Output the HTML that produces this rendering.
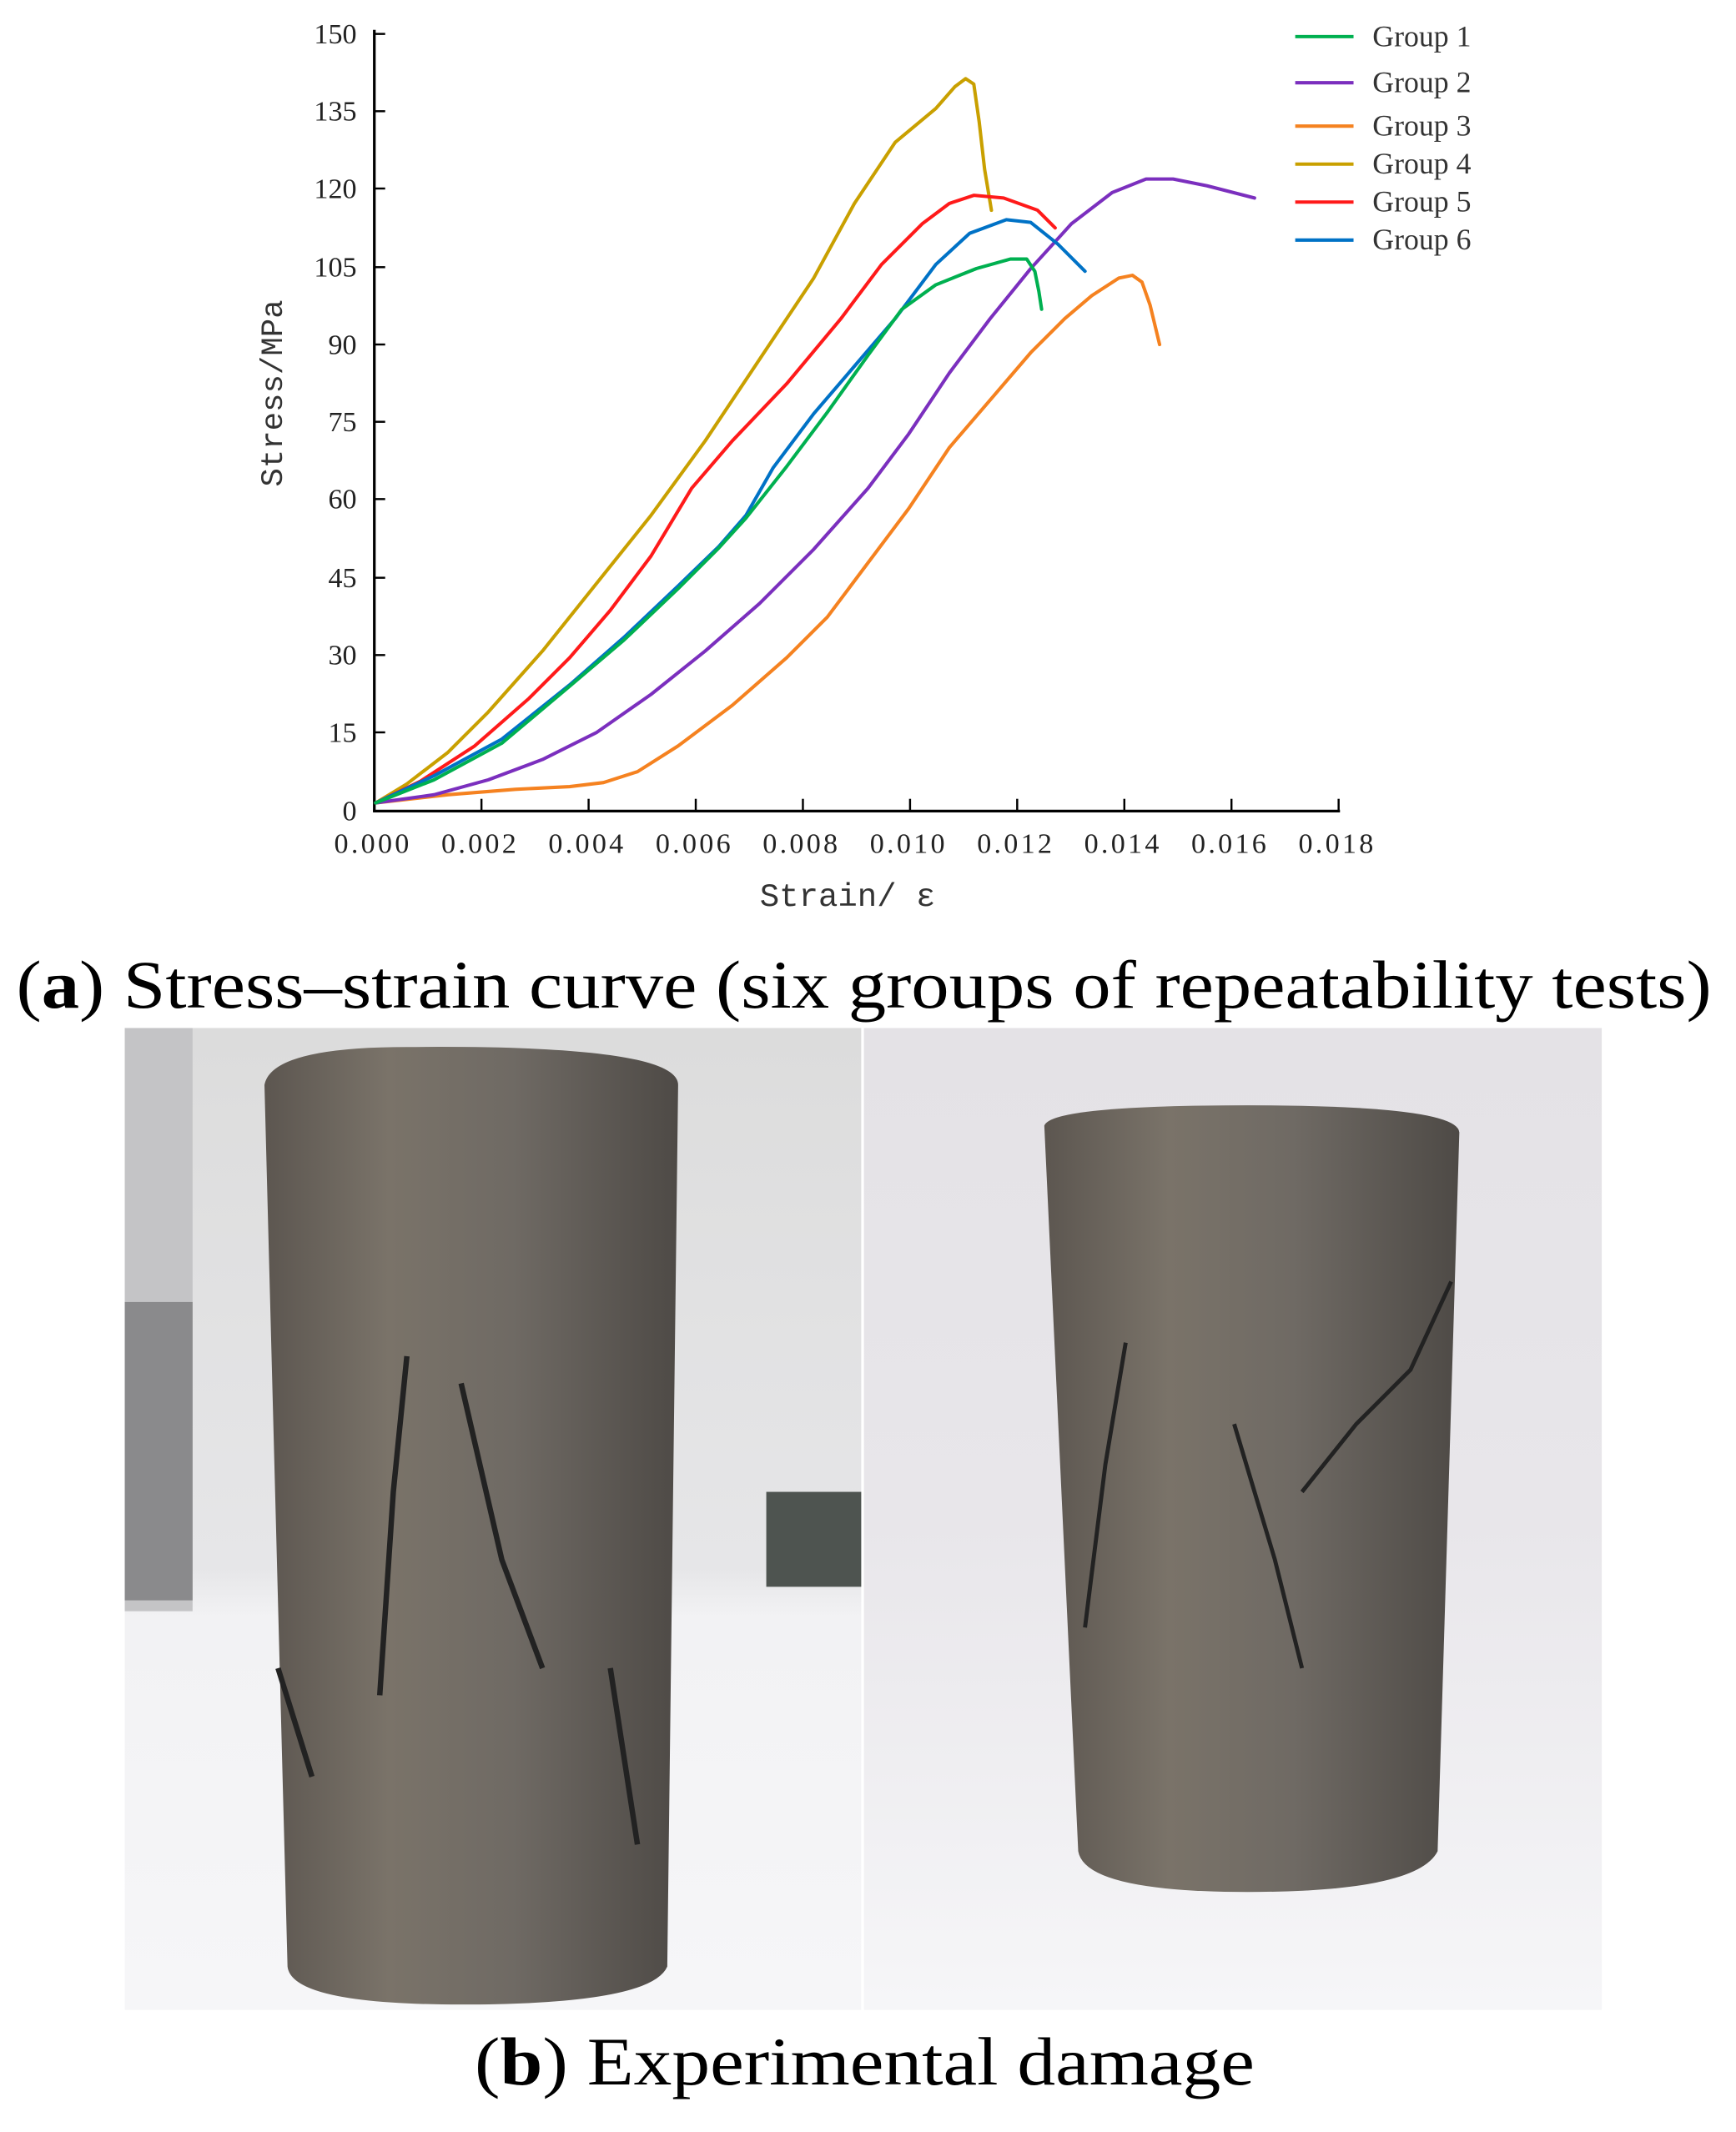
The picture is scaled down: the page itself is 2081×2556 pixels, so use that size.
<!DOCTYPE html>
<html><head><meta charset="utf-8"><style>html,body{margin:0;padding:0;background:#fff}svg{display:block}</style></head>
<body>
<svg width="2081" height="2556" viewBox="0 0 1280 1572" preserveAspectRatio="none" xmlns="http://www.w3.org/2000/svg">
<defs>
<linearGradient id="cyl" x1="0" x2="1" y1="0" y2="0">
<stop offset="0" stop-color="#5c5650"/><stop offset="0.3" stop-color="#7a7369"/><stop offset="0.6" stop-color="#6f6a64"/><stop offset="1" stop-color="#4e4a46"/></linearGradient>
<linearGradient id="bgL" x1="0" x2="0" y1="0" y2="1">
<stop offset="0" stop-color="#dcdcdc"/><stop offset="0.55" stop-color="#e6e6e8"/><stop offset="0.6" stop-color="#f2f2f4"/><stop offset="1" stop-color="#f6f6f8"/></linearGradient>
<linearGradient id="bgR" x1="0" x2="0" y1="0" y2="1">
<stop offset="0" stop-color="#e4e2e6"/><stop offset="0.5" stop-color="#e8e6ea"/><stop offset="1" stop-color="#f6f6f8"/></linearGradient>
</defs>
<rect width="1280" height="1572" fill="#fff"/>
<g stroke="#000" stroke-width="2" fill="none">
<line x1="276" y1="22" x2="276" y2="598"/>
<line x1="275" y1="598" x2="988" y2="598"/>
</g>
<g stroke="#000" stroke-width="1.5">
<line x1="276" y1="25" x2="284" y2="25"/><line x1="276" y1="82" x2="284" y2="82"/><line x1="276" y1="139" x2="284" y2="139"/><line x1="276" y1="197" x2="284" y2="197"/><line x1="276" y1="254" x2="284" y2="254"/><line x1="276" y1="311" x2="284" y2="311"/><line x1="276" y1="368" x2="284" y2="368"/><line x1="276" y1="426" x2="284" y2="426"/><line x1="276" y1="483" x2="284" y2="483"/><line x1="276" y1="540" x2="284" y2="540"/>
<line x1="355" y1="598" x2="355" y2="589"/><line x1="434" y1="598" x2="434" y2="589"/><line x1="513" y1="598" x2="513" y2="589"/><line x1="592" y1="598" x2="592" y2="589"/><line x1="671" y1="598" x2="671" y2="589"/><line x1="750" y1="598" x2="750" y2="589"/><line x1="829" y1="598" x2="829" y2="589"/><line x1="908" y1="598" x2="908" y2="589"/><line x1="987" y1="598" x2="987" y2="589"/>
</g>
<g font-family="Liberation Serif, serif" font-size="21" fill="#222" text-anchor="end">
<text x="263" y="32">150</text><text x="263" y="89">135</text><text x="263" y="146">120</text><text x="263" y="204">105</text><text x="263" y="261">90</text><text x="263" y="318">75</text><text x="263" y="375">60</text><text x="263" y="433">45</text><text x="263" y="490">30</text><text x="263" y="547">15</text><text x="263" y="605">0</text>
</g>
<g font-family="Liberation Serif, serif" font-size="21" fill="#222" text-anchor="middle" letter-spacing="2">
<text x="275" y="629">0.000</text><text x="354" y="629">0.002</text><text x="433" y="629">0.004</text><text x="512" y="629">0.006</text><text x="591" y="629">0.008</text><text x="670" y="629">0.010</text><text x="749" y="629">0.012</text><text x="828" y="629">0.014</text><text x="907" y="629">0.016</text><text x="986" y="629">0.018</text>
</g>
<text x="625" y="668" font-family="Liberation Mono, monospace" font-size="24" fill="#333" text-anchor="middle">Strain/ ε</text>
<text transform="translate(208,290) rotate(-90)" font-family="Liberation Mono, monospace" font-size="23" fill="#333" text-anchor="middle">Stress/MPa</text>
<g fill="none" stroke-width="2.5" stroke-linejoin="round" stroke-linecap="round">
<polyline stroke="#F58220" points="277,592 330,586 380,582 420,580 445,577 470,569 500,550 540,520 580,485 610,455 640,415 670,375 700,330 730,295 760,260 785,235 805,218 825,205 835,203 842,208 848,225 855,254"/>
<polyline stroke="#7B2FBE" points="277,592 320,586 360,575 400,560 440,540 480,512 520,480 560,445 600,405 640,360 670,320 700,275 730,235 760,198 790,165 820,142 845,132 865,132 890,137 925,146"/>
<polyline stroke="#C9A000" points="277,592 300,578 330,555 360,525 400,480 440,430 480,380 520,325 560,265 600,205 630,150 660,105 690,80 704,64 712,58 718,62 722,90 726,125 731,155"/>
<polyline stroke="#FF1A1A" points="277,592 310,576 350,550 390,515 420,485 450,450 480,410 510,360 540,325 580,283 620,235 650,195 680,165 700,150 718,144 740,146 765,155 778,168"/>
<polyline stroke="#0072C6" points="277,592 320,572 370,545 420,505 460,470 500,432 530,403 550,380 570,345 600,305 630,270 660,235 690,195 715,172 742,162 760,164 780,180 800,200"/>
<polyline stroke="#00B050" points="277,592 320,575 370,548 420,506 460,472 500,434 530,404 550,382 580,344 610,304 640,262 665,228 690,210 720,198 745,191 757,191 763,200 766,215 768,228"/>
</g>
<g stroke-width="2.5">
<line x1="955" y1="27" x2="998" y2="27" stroke="#00B050"/>
<line x1="955" y1="61" x2="998" y2="61" stroke="#7B2FBE"/>
<line x1="955" y1="93" x2="998" y2="93" stroke="#F58220"/>
<line x1="955" y1="121" x2="998" y2="121" stroke="#C9A000"/>
<line x1="955" y1="149" x2="998" y2="149" stroke="#FF1A1A"/>
<line x1="955" y1="177" x2="998" y2="177" stroke="#0072C6"/>
</g>
<g font-family="Liberation Serif, serif" font-size="22" fill="#333">
<text x="1012" y="34">Group 1</text><text x="1012" y="68">Group 2</text><text x="1012" y="100">Group 3</text><text x="1012" y="128">Group 4</text><text x="1012" y="156">Group 5</text><text x="1012" y="184">Group 6</text>
</g>
<text x="12" y="743" font-family="Liberation Serif, serif" font-size="50" fill="#000" textLength="1250" lengthAdjust="spacingAndGlyphs">(<tspan font-weight="bold">a</tspan>) Stress–strain curve (six groups of repeatability tests)</text>
<rect x="92" y="758" width="543" height="724" fill="url(#bgL)"/>
<rect x="92" y="758" width="50" height="430" fill="#c4c4c6"/>
<rect x="92" y="960" width="50" height="220" fill="#8a8a8c"/>
<rect x="565" y="1100" width="70" height="70" fill="#4e5450"/>
<path d="M195,800 Q200,772 300,772 Q500,770 500,800 L492,1450 Q480,1478 340,1478 Q215,1478 212,1450 Z" fill="url(#cyl)"/>
<path d="M300,1000 L290,1100 L280,1250 M340,1020 L370,1150 L400,1230 M450,1230 L470,1360 M205,1230 L230,1310" stroke="#222" stroke-width="4" fill="none"/>
<rect x="637" y="758" width="544" height="724" fill="url(#bgR)"/>
<path d="M770,830 Q775,815 920,815 Q1075,815 1076,835 L1060,1365 Q1045,1395 920,1395 Q800,1395 795,1365 Z" fill="url(#cyl)"/>
<path d="M830,990 L815,1080 L800,1200 M1070,945 L1040,1010 L1000,1050 L960,1100 M910,1050 L940,1150 L960,1230" stroke="#222" stroke-width="3" fill="none"/>
<text x="350" y="1537" font-family="Liberation Serif, serif" font-size="50" fill="#000" textLength="575" lengthAdjust="spacingAndGlyphs">(<tspan font-weight="bold">b</tspan>) Experimental damage</text>
</svg>
</body></html>
